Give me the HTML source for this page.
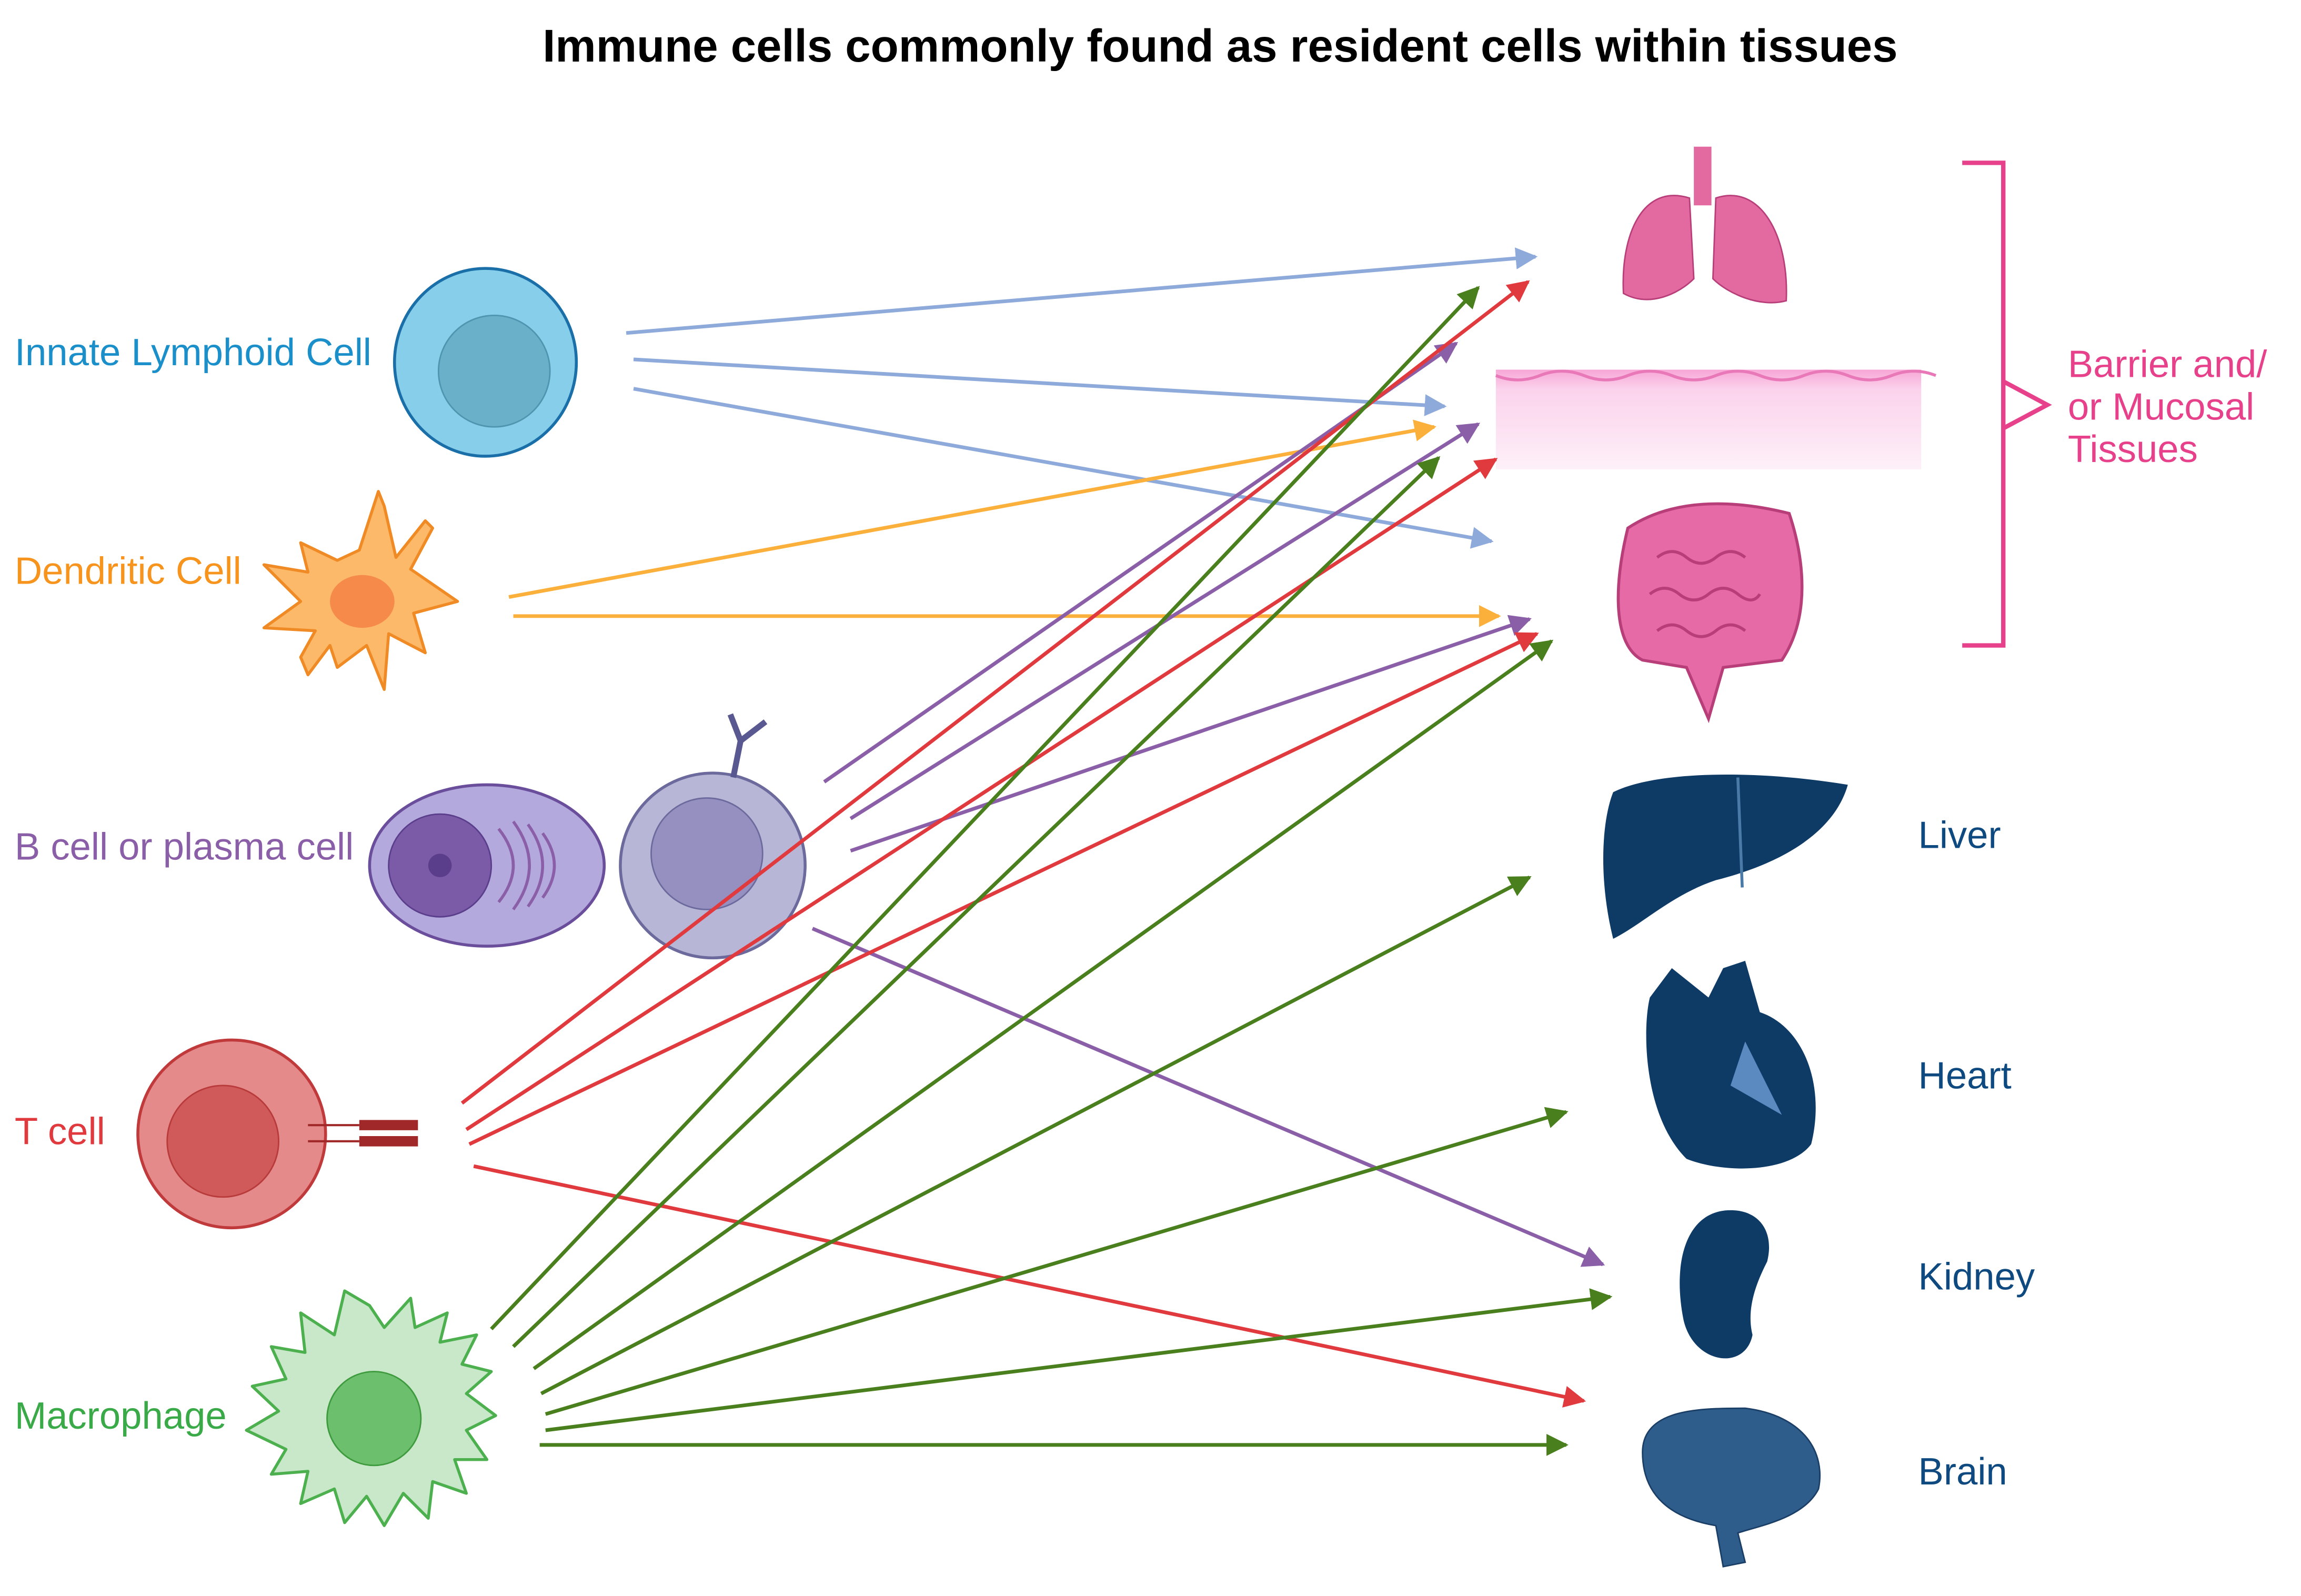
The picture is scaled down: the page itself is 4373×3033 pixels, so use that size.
<!DOCTYPE html>
<html><head><meta charset="utf-8"><style>
html,body{margin:0;padding:0;background:#fff;}
svg{display:block;}
text{font-family:"Liberation Sans",sans-serif;}
</style></head><body>
<svg width="4373" height="3033" viewBox="0 0 1569 1088" preserveAspectRatio="none" xmlns="http://www.w3.org/2000/svg">
<defs>
<marker id="mb" viewBox="0 0 10 10" refX="9" refY="5" markerWidth="6" markerHeight="6" orient="auto"><path d="M0,0L10,5L0,10z" fill="#8eaadb"/></marker>
<marker id="mo" viewBox="0 0 10 10" refX="9" refY="5" markerWidth="6" markerHeight="6" orient="auto"><path d="M0,0L10,5L0,10z" fill="#fbb03b"/></marker>
<marker id="mp" viewBox="0 0 10 10" refX="9" refY="5" markerWidth="6" markerHeight="6" orient="auto"><path d="M0,0L10,5L0,10z" fill="#8a5fa8"/></marker>
<marker id="mr" viewBox="0 0 10 10" refX="9" refY="5" markerWidth="6" markerHeight="6" orient="auto"><path d="M0,0L10,5L0,10z" fill="#e0393e"/></marker>
<marker id="mg" viewBox="0 0 10 10" refX="9" refY="5" markerWidth="6" markerHeight="6" orient="auto"><path d="M0,0L10,5L0,10z" fill="#4a7f1e"/></marker>
<linearGradient id="skin" x1="0" y1="0" x2="0" y2="1"><stop offset="0" stop-color="#f7a6d6"/><stop offset="0.2" stop-color="#fbd3ec"/><stop offset="1" stop-color="#fdf0f8"/></linearGradient>
</defs>
<rect width="1569" height="1088" fill="#fff"/>
<text x="832" y="42" font-size="31.2" font-weight="bold" text-anchor="middle" fill="#000">Immune cells commonly found as resident cells within tissues</text>

<g font-size="26">
<text x="10" y="249" fill="#1a8fc9">Innate Lymphoid Cell</text>
<text x="10" y="398" fill="#f7941d">Dendritic Cell</text>
<text x="10" y="586" fill="#8a5fa8">B cell or plasma cell</text>
<text x="10" y="780" fill="#e0393e">T cell</text>
<text x="10" y="974" fill="#3aaa48">Macrophage</text>
</g>

<ellipse cx="331" cy="247" rx="62" ry="64" fill="#87ceeb" stroke="#1a6fa8" stroke-width="2"/>
<circle cx="337" cy="253" r="38" fill="#6ab0c8" stroke="#4f95b0"/>
<path d="M245,375 L258,335 L262,345 L270,380 L290,355 L295,360 L280,388 L312,410 L282,418 L290,445 L265,432 L262,470 L250,440 L230,455 L225,440 L210,460 L205,448 L215,430 L180,428 L205,410 L180,385 L210,390 L205,370 L230,382 Z" fill="#fdb96a" stroke="#f08a24" stroke-width="2" stroke-linejoin="round"/>
<ellipse cx="247" cy="410" rx="22" ry="18" fill="#f58a4a"/>
<ellipse cx="332" cy="590" rx="80" ry="55" fill="#b3a9dd" stroke="#6a4e9c" stroke-width="2"/>
<circle cx="300" cy="590" r="35" fill="#7b5ba8" stroke="#5a3e8c"/>
<circle cx="300" cy="590" r="8" fill="#5a3e8c"/>
<g fill="none" stroke="#8a5fa8" stroke-width="2"><path d="M340,565 q20,25 0,50"/><path d="M350,560 q22,30 0,60"/><path d="M360,562 q20,28 0,56"/><path d="M370,568 q16,22 0,44"/></g>
<circle cx="486" cy="590" r="63" fill="#b8b6d6" stroke="#6c6a9c" stroke-width="2"/>
<circle cx="482" cy="582" r="38" fill="#9590c0" stroke="#6c6a9c"/>
<g stroke="#5a5890" stroke-width="4" fill="none"><path d="M500,530 L505,505 L498,487"/><path d="M505,505 L522,492"/></g>
<circle cx="158" cy="773" r="64" fill="#e58a8a" stroke="#c0393b" stroke-width="2"/>
<circle cx="152" cy="778" r="38" fill="#d05a5a" stroke="#b83a3a"/>
<g stroke="#a02828" stroke-width="7"><line x1="245" y1="767" x2="285" y2="767"/><line x1="245" y1="778" x2="285" y2="778"/></g>
<g stroke="#a02828" stroke-width="1.5"><line x1="210" y1="767" x2="245" y2="767"/><line x1="210" y1="778" x2="245" y2="778"/></g>
<path d="M252,890 L262,905 L280,885 L283,905 L305,895 L300,915 L325,910 L315,930 L335,935 L318,950 L338,965 L318,975 L332,995 L310,995 L318,1018 L295,1010 L292,1035 L275,1018 L262,1040 L250,1020 L235,1038 L228,1015 L205,1025 L210,1003 L185,1005 L195,988 L168,975 L190,962 L172,945 L195,940 L185,918 L208,922 L205,895 L228,910 L235,880 Z" fill="#c9e8c9" stroke="#4db04e" stroke-width="2" stroke-linejoin="round"/>
<circle cx="255" cy="967" r="32" fill="#6cbf6c" stroke="#3d9a3d"/>

<path d="M1155,100 h12 v40 h-12z" fill="#e36aa0"/>
<path d="M1152,135 C1120,125 1105,160 1107,200 C1125,210 1145,200 1155,190 Z" fill="#e36aa0" stroke="#b83e7a"/>
<path d="M1170,135 C1200,125 1220,160 1218,205 C1200,210 1178,200 1168,190 Z" fill="#e36aa0" stroke="#b83e7a"/>
<rect x="1020" y="252" width="290" height="68" fill="url(#skin)"/>
<path d="M1020,256 q15,6 30,0 t30,0 t30,0 t30,0 t30,0 t30,0 t30,0 t30,0 t30,0 t30,0" stroke="#e878b8" fill="none" stroke-width="2"/>
<path d="M1110,360 C1100,400 1100,440 1120,450 L1150,455 L1165,490 L1175,455 L1215,450 C1235,420 1230,380 1220,350 C1180,340 1140,340 1110,360Z" fill="#e56aa5" stroke="#b83e7a" stroke-width="2"/>
<g fill="none" stroke="#b83e7a" stroke-width="2"><path d="M1130,380 q10,-8 20,0 t20,0 t20,0"/><path d="M1125,405 q10,-8 20,0 t20,0 t20,0 t15,0"/><path d="M1130,430 q10,-8 20,0 t20,0 t20,0"/></g>
<path d="M1100,540 C1130,525 1200,525 1260,535 C1250,570 1210,590 1170,600 C1140,610 1120,630 1100,640 C1090,600 1092,560 1100,540Z" fill="#0e3a66"/>
<path d="M1185,530 L1188,605" stroke="#4a7aa8" stroke-width="2"/>
<path d="M1125,680 C1120,700 1120,760 1150,790 C1175,800 1220,800 1235,780 C1245,740 1230,700 1200,690 L1190,655 L1175,660 L1165,680 L1140,660Z" fill="#0e3a66"/>
<path d="M1190,710 L1215,760 L1180,740Z" fill="#5a8ac0"/>
<path d="M1180,825 C1150,825 1140,860 1148,900 C1155,930 1190,935 1195,910 C1190,890 1200,870 1205,860 C1210,840 1200,825 1180,825Z" fill="#0e3a66"/>
<path d="M1120,990 C1120,960 1160,960 1190,960 C1230,965 1245,990 1240,1015 C1230,1035 1200,1040 1185,1045 L1190,1065 L1175,1068 L1170,1040 C1140,1035 1120,1020 1120,990Z" fill="#2e5d8c" stroke="#1a3e66"/>

<path d="M1338,111 H1366 V440 H1338 M1366,260 L1396,276 L1366,292" fill="none" stroke="#e6418a" stroke-width="3"/>
<g font-size="26" fill="#e6418a"><text x="1410" y="257">Barrier and/</text><text x="1410" y="286">or Mucosal</text><text x="1410" y="315">Tissues</text></g>
<g font-size="26" fill="#0e4a80"><text x="1308" y="578">Liver</text><text x="1308" y="742">Heart</text><text x="1308" y="879">Kidney</text><text x="1308" y="1012">Brain</text></g>

<g stroke-width="2.5" fill="none">
<g stroke="#8eaadb" marker-end="url(#mb)"><line x1="427" y1="227" x2="1047" y2="175"/><line x1="432" y1="245" x2="985" y2="277"/><line x1="432" y1="265" x2="1017" y2="369"/></g>
<g stroke="#fbb03b" marker-end="url(#mo)"><line x1="347" y1="407" x2="978" y2="291"/><line x1="350" y1="420" x2="1022" y2="420"/></g>
<g stroke="#8a5fa8" marker-end="url(#mp)"><line x1="562" y1="533" x2="993" y2="234"/><line x1="580" y1="558" x2="1008" y2="289"/><line x1="580" y1="580" x2="1043" y2="422"/><line x1="554" y1="633" x2="1093" y2="862"/></g>
<g stroke="#e0393e" marker-end="url(#mr)"><line x1="315" y1="752" x2="1042" y2="192"/><line x1="318" y1="770" x2="1020" y2="313"/><line x1="320" y1="780" x2="1048" y2="432"/><line x1="323" y1="795" x2="1080" y2="955"/></g>
<g stroke="#4a7f1e" marker-end="url(#mg)"><line x1="335" y1="906" x2="1008" y2="196"/><line x1="350" y1="918" x2="981" y2="312"/><line x1="364" y1="933" x2="1058" y2="437"/><line x1="369" y1="950" x2="1043" y2="598"/><line x1="372" y1="964" x2="1068" y2="758"/><line x1="372" y1="975" x2="1098" y2="884"/><line x1="368" y1="985" x2="1068" y2="985"/></g>
</g>
</svg>
</body></html>
